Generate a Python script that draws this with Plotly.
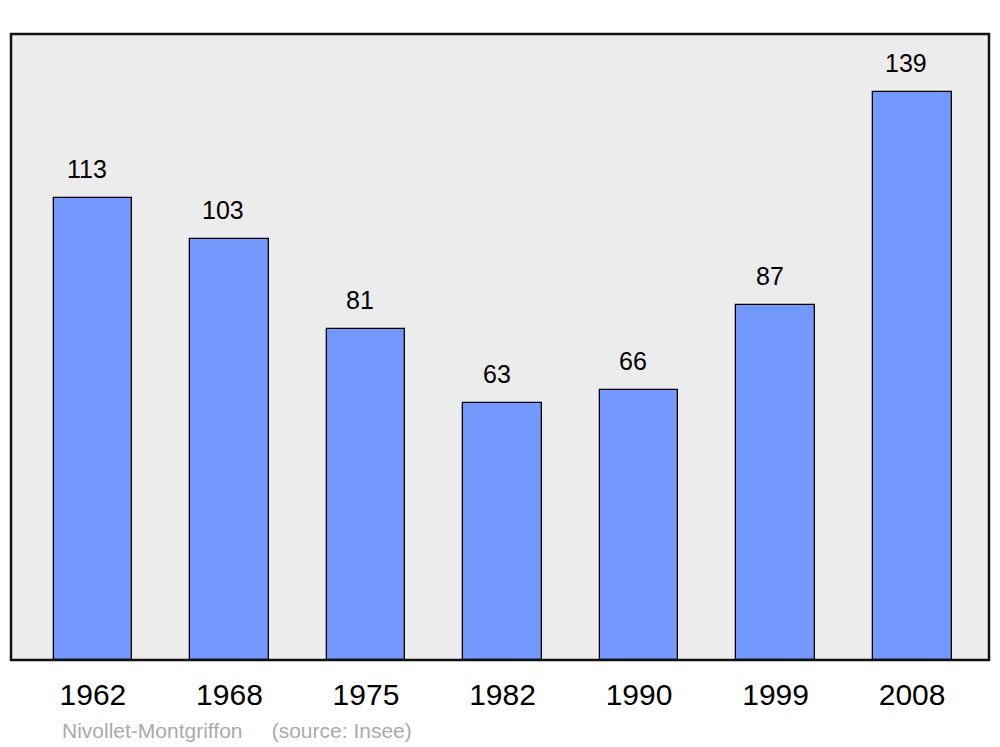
import plotly.graph_objects as go

years = ["1962", "1968", "1975", "1982", "1990", "1999", "2008"]
population = [113, 103, 81, 63, 66, 87, 139]
footer_name = "Nivollet-Montgriffon"
footer_source = "(source: Insee)"

FONT = "Liberation Sans, Arial, sans-serif"
pos = list(range(len(years)))

fig = go.Figure()
fig.add_trace(go.Bar(
    x=pos, y=population, width=0.577,
    marker=dict(color="#7399ff", line=dict(color="#000000", width=1.3)),
    hovertext=years, hoverinfo="text+y",
))
for i, v in zip(pos, population):
    fig.add_annotation(x=i, y=v, text=str(v), showarrow=False, yanchor="bottom",
                       yshift=13, xshift=-6, font=dict(size=25, color="#000000", family=FONT))

fig.add_annotation(xref="paper", yref="paper", x=0.050, y=-0.1125, xanchor="left",
                   yanchor="middle",
                   text=footer_name + "&nbsp;&nbsp;&nbsp;&nbsp;&nbsp;" + footer_source,
                   showarrow=False, font=dict(size=21, color="#aaaaaa", family=FONT))

fig.add_shape(type="rect", xref="paper", yref="paper", x0=0, x1=1, y0=0, y1=1,
              line=dict(color="#111111", width=2.5), layer="above")

fig.update_layout(
    width=1000, height=747,
    margin=dict(l=11, r=11, t=34, b=87),
    plot_bgcolor="#ececec", paper_bgcolor="#ffffff",
    showlegend=False, bargap=0,
    font=dict(family=FONT, color="#000000"),
)
fig.update_xaxes(range=[-0.6, 6.563], showgrid=False, zeroline=False,
                 tickmode="array", tickvals=pos, ticktext=years,
                 tickfont=dict(size=30), ticks="", ticklabelstandoff=14, fixedrange=True)
fig.update_yaxes(range=[0, 153.2], showgrid=False, zeroline=False, showticklabels=False,
                 ticks="", fixedrange=True)

fig.write_html("out.html", config={"displayModeBar": False},
               post_script="document.body.style.margin='0';")
